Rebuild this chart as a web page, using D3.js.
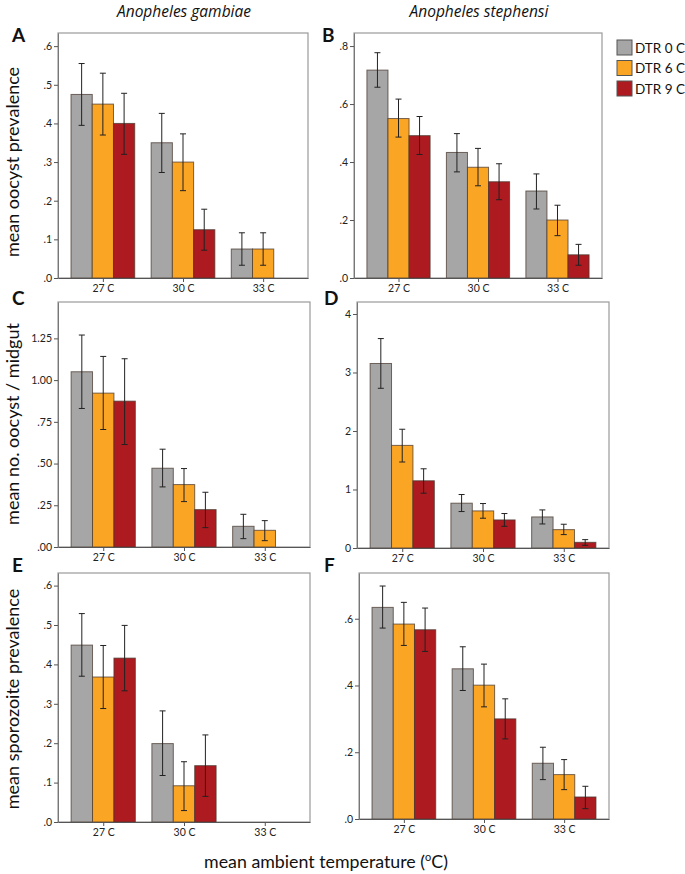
<!DOCTYPE html>
<html>
<head>
<meta charset="utf-8">
<script src="https://cdn.jsdelivr.net/npm/d3@7"></script>
<style>
  body { margin: 0; background: #fff; }
  svg { display: block; font-family: Lato, "Open Sans", sans-serif; }
</style>
</head>
<body>
<svg id="chart" width="685" height="874"></svg>
<script>
// categories / series
var categories = ["27 C", "30 C", "33 C"];
var seriesNames = ["DTR 0 C", "DTR 6 C", "DTR 9 C"];
var seriesColors = ["#a6a6a6", "#fba524", "#ad1a1f"];

// A: An. gambiae, oocyst prevalence
var aMean = [[0.475, 0.450, 0.400], [0.350, 0.300, 0.125], [0.075, 0.075, 0]];
var aLow  = [[0.395, 0.370, 0.320], [0.273, 0.226, 0.072], [0.033, 0.033, null]];
var aHigh = [[0.555, 0.530, 0.478], [0.426, 0.373, 0.178], [0.117, 0.117, null]];

// B: An. stephensi, oocyst prevalence
var bMean = [[0.717, 0.550, 0.491], [0.433, 0.382, 0.332], [0.300, 0.200, 0.080]];
var bLow  = [[0.658, 0.486, 0.426], [0.366, 0.318, 0.270], [0.238, 0.146, 0.044]];
var bHigh = [[0.777, 0.617, 0.557], [0.498, 0.447, 0.394], [0.359, 0.251, 0.116]];

// C: An. gambiae, oocysts / midgut
var cMean = [[1.050, 0.922, 0.874], [0.472, 0.374, 0.224], [0.124, 0.100, 0]];
var cLow  = [[0.830, 0.704, 0.614], [0.360, 0.272, 0.116], [0.050, 0.038, null]];
var cHigh = [[1.270, 1.142, 1.128], [0.586, 0.470, 0.328], [0.196, 0.158, null]];

// D: An. stephensi, oocysts / midgut
var dMean = [[3.154, 1.754, 1.149], [0.766, 0.634, 0.480], [0.531, 0.314, 0.097]];
var dLow  = [[2.730, 1.470, 0.937], [0.623, 0.509, 0.371], [0.411, 0.229, 0.046]];
var dHigh = [[3.580, 2.030, 1.354], [0.914, 0.760, 0.589], [0.651, 0.406, 0.143]];

// E: An. gambiae, sporozoite prevalence
var eMean = [[0.449, 0.368, 0.416], [0.199, 0.092, 0.143], [0, 0, 0]];
var eLow  = [[0.370, 0.288, 0.333], [0.118, 0.029, 0.065], [null, null, null]];
var eHigh = [[0.529, 0.448, 0.499], [0.282, 0.153, 0.221], [null, null, null]];

// F: An. stephensi, sporozoite prevalence
var fMean = [[0.634, 0.584, 0.567], [0.450, 0.401, 0.300], [0.167, 0.133, 0.066]];
var fLow  = [[0.572, 0.520, 0.502], [0.385, 0.336, 0.240], [0.118, 0.088, 0.031]];
var fHigh = [[0.698, 0.649, 0.632], [0.516, 0.464, 0.360], [0.215, 0.178, 0.098]];

// y ticks
var ticksTenths = [0, 0.1, 0.2, 0.3, 0.4, 0.5, 0.6];
var labelsTenths = [".0", ".1", ".2", ".3", ".4", ".5", ".6"];
var ticksFifths = [0, 0.2, 0.4, 0.6, 0.8];
var labelsFifths = [".0", ".2", ".4", ".6", ".8"];
var ticksQuarters = [0, 0.25, 0.5, 0.75, 1, 1.25];
var labelsQuarters = [".00", ".25", ".50", ".75", "1.00", "1.25"];
var ticksUnits = [0, 1, 2, 3, 4];
var labelsUnits = ["0", "1", "2", "3", "4"];

var svg = d3.select("#chart");

function drawPanel(p) {
  var x = d3.scalePoint().domain(categories).range([p.x0, p.x1]).padding(0.56);
  var bw = x.step() * 0.265;
  var xs = d3.scaleBand().domain(seriesNames).range([-1.5 * bw, 1.5 * bw]);
  var y = d3.scaleLinear().domain([0, p.yMax]).range([p.y1, p.y0]);

  var g = svg.append("g");

  // frame
  g.append("rect")
    .attr("x", p.x0).attr("y", p.y0)
    .attr("width", p.x1 - p.x0).attr("height", p.y1 - p.y0)
    .attr("fill", "none").attr("stroke", "#9a9a9a").attr("stroke-width", 1.2);

  // bars
  var rows = [];
  categories.forEach(function(c, i) {
    seriesNames.forEach(function(s, j) {
      rows.push({cat: c, ser: s, j: j, v: p.mean[i][j], lo: p.low[i][j], hi: p.high[i][j]});
    });
  });

  g.selectAll(".bar").data(rows).enter().append("rect")
    .attr("class", "bar")
    .attr("x", function(d) { return x(d.cat) + xs(d.ser); })
    .attr("width", xs.bandwidth())
    .attr("y", function(d) { return y(d.v); })
    .attr("height", function(d) { return y(0) - y(d.v); })
    .attr("fill", function(d) { return seriesColors[d.j]; })
    .attr("stroke", "#4a3a30").attr("stroke-opacity", 0.75).attr("stroke-width", 1);

  var err = rows.filter(function(d) { return d.lo !== null; });
  var eg = g.selectAll(".err").data(err).enter().append("g").attr("class", "err")
    .attr("stroke", "#222").attr("stroke-width", 1);
  eg.append("line")
    .attr("x1", function(d) { return x(d.cat) + xs(d.ser) + bw / 2; })
    .attr("x2", function(d) { return x(d.cat) + xs(d.ser) + bw / 2; })
    .attr("y1", function(d) { return y(d.lo); })
    .attr("y2", function(d) { return y(d.hi); });
  ["lo", "hi"].forEach(function(k) {
    eg.append("line")
      .attr("x1", function(d) { return x(d.cat) + xs(d.ser) + bw / 2 - 3; })
      .attr("x2", function(d) { return x(d.cat) + xs(d.ser) + bw / 2 + 3; })
      .attr("y1", function(d) { return y(d[k]); })
      .attr("y2", function(d) { return y(d[k]); });
  });

  // axes
  var ya = g.append("g").attr("transform", "translate(" + p.x0 + ",0)")
    .call(d3.axisLeft(y).tickValues(p.ticks).tickSize(4).tickSizeOuter(0)
      .tickFormat(function(d, i) { return p.labels[i]; }));
  ya.select(".domain").attr("stroke", "#777");
  ya.selectAll(".tick line").attr("stroke", "#555");
  ya.selectAll("text").attr("font-size", 10.5).attr("fill", "#222").attr("dx", 1).attr("font-family", "Lato, sans-serif");

  var xa = g.append("g").attr("transform", "translate(0," + p.y1 + ")")
    .call(d3.axisBottom(x).tickSize(4).tickSizeOuter(0));
  xa.select(".domain").attr("stroke", "#555");
  xa.selectAll(".tick line").attr("stroke", "#555");
  xa.selectAll("text").attr("font-size", 10.5).attr("fill", "#222").attr("dy", "0.7em").attr("font-family", "Lato, sans-serif");

  // panel letter
  svg.append("text").attr("x", p.lx).attr("y", p.ly)
    .attr("font-size", 19).attr("font-weight", "bold").attr("fill", "#111")
    .text(p.letter);
}

var panels = [
  {letter: "A", mean: aMean, low: aLow, high: aHigh, yMax: 0.634, ticks: ticksTenths, labels: labelsTenths,
   x0: 58, x1: 308, y0: 33, y1: 278, lx: 12, ly: 42},
  {letter: "B", mean: bMean, low: bLow, high: bHigh, yMax: 0.845, ticks: ticksFifths, labels: labelsFifths,
   x0: 354, x1: 602, y0: 33, y1: 278, lx: 322, ly: 42},
  {letter: "C", mean: cMean, low: cLow, high: cHigh, yMax: 1.468, ticks: ticksQuarters, labels: labelsQuarters,
   x0: 58, x1: 310, y0: 302, y1: 547, lx: 12, ly: 305},
  {letter: "D", mean: dMean, low: dLow, high: dHigh, yMax: 4.205, ticks: ticksUnits, labels: labelsUnits,
   x0: 357, x1: 609, y0: 302, y1: 548, lx: 324, ly: 305},
  {letter: "E", mean: eMean, low: eLow, high: eHigh, yMax: 0.632, ticks: ticksTenths, labels: labelsTenths,
   x0: 58, x1: 310, y0: 573, y1: 822, lx: 12, ly: 572},
  {letter: "F", mean: fMean, low: fLow, high: fHigh, yMax: 0.737, ticks: ticksFifths.slice(0, 4), labels: labelsFifths.slice(0, 4),
   x0: 359, x1: 609, y0: 573, y1: 819, lx: 324, ly: 572}
];
panels.forEach(drawPanel);

// column titles
svg.append("text").attr("x", 184).attr("y", 17).attr("text-anchor", "middle")
  .attr("font-family", "'Open Sans', sans-serif")
  .attr("font-size", 15.5).attr("font-style", "italic").attr("fill", "#111").text("Anopheles gambiae");
svg.append("text").attr("x", 479).attr("y", 17).attr("text-anchor", "middle")
  .attr("font-family", "'Open Sans', sans-serif")
  .attr("font-size", 15.5).attr("font-style", "italic").attr("fill", "#111").text("Anopheles stephensi");

// y titles
[["mean oocyst prevalence", 162], ["mean no. oocyst / midgut", 424], ["mean sporozoite prevalence", 699]].forEach(function(t) {
  svg.append("text").attr("transform", "translate(19," + t[1] + ") rotate(-90)")
    .attr("text-anchor", "middle").attr("font-size", 18).attr("fill", "#111").text(t[0]);
});

// x title
var xt = svg.append("text").attr("x", 326).attr("y", 868).attr("text-anchor", "middle")
  .attr("font-size", 17.8).attr("fill", "#111");
xt.append("tspan").text("mean ambient temperature (");
xt.append("tspan").attr("font-size", 11).attr("dy", -7).text("o");
xt.append("tspan").attr("dy", 7).text("C)");

// legend
var lg = svg.append("g").attr("transform", "translate(617,40)");
seriesNames.forEach(function(s, i) {
  lg.append("rect").attr("x", 0).attr("y", i * 20.5).attr("width", 15).attr("height", 15)
    .attr("fill", seriesColors[i]).attr("stroke", "#555").attr("stroke-width", 1);
  lg.append("text").attr("x", 18).attr("y", i * 20.5 + 12.5).attr("font-size", 13.5).attr("fill", "#111").text(s);
});
</script>
</body>
</html>
